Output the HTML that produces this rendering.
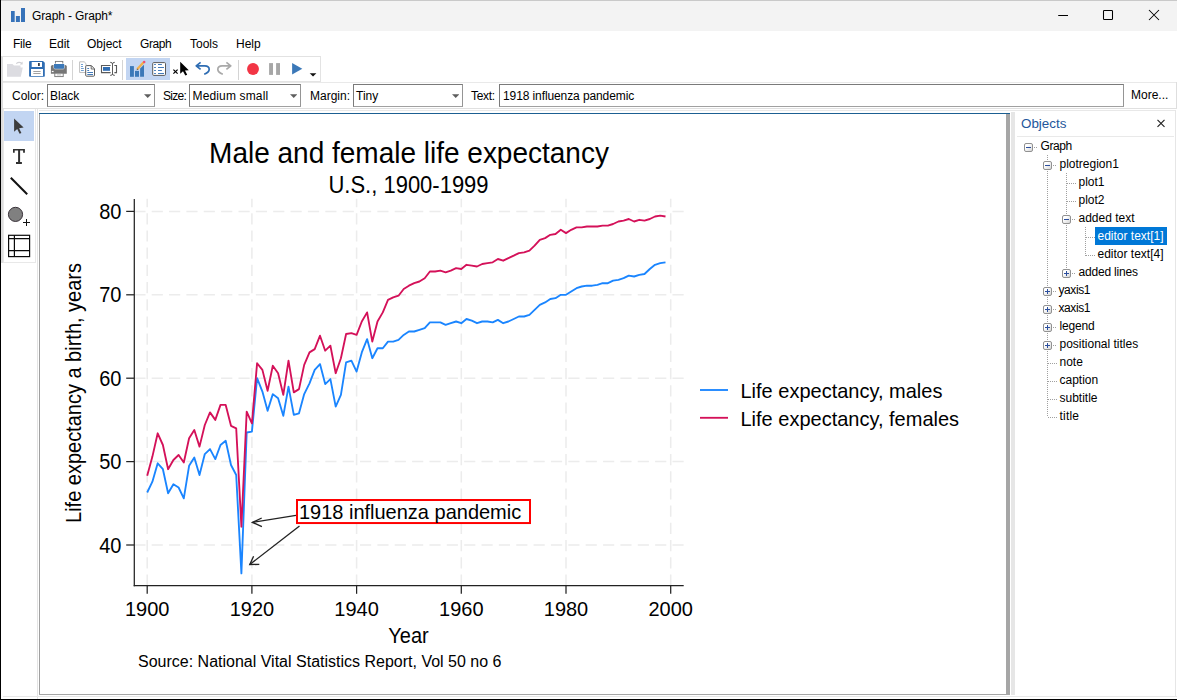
<!DOCTYPE html>
<html><head><meta charset="utf-8"><title>Graph - Graph*</title>
<style>
*{box-sizing:border-box}
html,body{margin:0;padding:0}
body{width:1177px;height:700px;overflow:hidden;background:#fff;position:relative;font-family:"Liberation Sans",sans-serif;font-size:12px;color:#000}
.a{position:absolute}
.t{position:absolute;white-space:pre;line-height:14px;height:14px}
.combo{position:absolute;top:84px;height:23px;background:#fff;border:1px solid #7a7a7a;border-right-color:#959595;border-bottom-color:#a0a0a0}
.combo i{position:absolute;right:2.6px;top:9.2px;width:7.4px;height:3.9px;background:#5e5e5e;clip-path:polygon(0 0,100% 0,50% 100%)}
.tree .t{font-size:12px}
.dot{position:absolute;border-color:#9a9a9a;border-style:dotted;border-width:0}
.box{position:absolute;width:9px;height:9px;border:1px solid #919191;border-radius:2px;background:linear-gradient(135deg,#fff 30%,#d6d6d6)}
.box:before{content:"";position:absolute;left:1px;top:3px;width:5px;height:1px;background:#2c4f9e}
.box.p:after{content:"";position:absolute;left:3px;top:1px;width:1px;height:5px;background:#2c4f9e}
</style></head><body>
<!-- window frame -->
<div class="a" style="left:0;top:0;width:1177px;height:1px;background:#c9c9c9"></div>
<div class="a" style="left:1px;top:1px;width:1176px;height:30px;background:#f3f3f3"></div>
<div class="a" style="left:0;top:0;width:1.3px;height:700px;background:#000"></div>
<div class="a" style="left:1.3px;top:56px;width:1.4px;height:207px;background:#dddddd"></div>
<div class="a" style="left:0;top:699px;width:1177px;height:1px;background:#000"></div>
<!-- title -->
<svg class="a" style="left:10px;top:7px" width="16" height="16"><rect x="1" y="4" width="3.7" height="11" fill="#3672b9"/><rect x="5.9" y="9" width="4" height="6" fill="#3672b9"/><rect x="11" y="1" width="4" height="14" fill="#3672b9"/></svg>
<div class="t" style="left:32px;top:9px;font-size:12px;letter-spacing:-0.12px">Graph - Graph*</div>
<svg class="a" style="left:1050px;top:5px" width="120" height="22" fill="none" stroke="#000" stroke-width="1.05"><line x1="8.2" y1="10.5" x2="18" y2="10.5"/><rect x="53.5" y="5.5" width="9" height="9" rx="0.8"/><path d="M99,5 L109,15 M109,5 L99,15"/></svg>
<!-- menu -->
<div class="t" style="left:13px;top:37px;letter-spacing:-0.25px">File</div>
<div class="t" style="left:49px;top:37px">Edit</div>
<div class="t" style="left:87px;top:37px">Object</div>
<div class="t" style="left:140px;top:37px;letter-spacing:-0.4px">Graph</div>
<div class="t" style="left:190px;top:37px">Tools</div>
<div class="t" style="left:236px;top:37px">Help</div>
<div class="a" style="left:2px;top:56px;width:319px;height:1px;background:#e2e2e2"></div>
<!-- toolbar -->
<div class="a" style="left:3px;top:81px;width:318px;height:1px;background:#e3e3e3"></div>
<div class="a" style="left:320px;top:57px;width:1px;height:25px;background:#e3e3e3"></div>
<div class="a" style="left:126px;top:58px;width:44px;height:22px;background:#c2d5f2"></div>
<svg class="a" style="left:0;top:56px" width="325" height="26" viewBox="0 56 325 26">
<!-- open (disabled) -->
<path d="M7,64 L12.5,64 L14,65.6 L20.5,65.6 L20.5,67.5 L22.8,67.5 L20.8,76.8 L7,76.8 Z" fill="#dcdce1"/>
<path d="M16.2,63.6 Q19,61.3 22,63.4" fill="none" stroke="#d2d2d6" stroke-width="1.1"/><path d="M22.6,61.5 L22.6,64.6 L19.8,64.4 Z" fill="#d2d2d6"/>
<!-- save -->
<path d="M30,61 L43,61 L44.8,62.8 L44.8,76 Q44.8,76.8 44,76.8 L30,76.8 Q29.1,76.8 29.1,76 L29.1,61.9 Q29.1,61 30,61 Z" fill="#2f6db3"/>
<rect x="31.7" y="62" width="10.3" height="5" fill="#fff"/><rect x="38" y="63" width="1.8" height="3" fill="#3a3f48"/>
<rect x="31" y="69" width="12" height="7" fill="#fff"/><rect x="33.3" y="71.2" width="7.3" height="0.8" fill="#8a8a8a"/><rect x="33.3" y="73.2" width="7.3" height="0.8" fill="#8a8a8a"/>
<!-- print -->
<rect x="55.4" y="61.4" width="7.4" height="4" fill="#fff" stroke="#767676" stroke-width="0.9"/>
<path d="M52.5,65 L65.2,65 Q66.8,65 66.8,66.6 L66.8,73.8 L50.9,73.8 L50.9,66.6 Q50.9,65 52.5,65 Z" fill="#767676"/>
<path d="M54,64 L64.2,64 L64.2,67.8 Q64.2,68.8 63.2,68.8 L55,68.8 Q54,68.8 54,67.8 Z" fill="#3b78b8" stroke="#fff" stroke-width="0.9" paint-order="stroke"/>
<rect x="51.8" y="70.9" width="1.8" height="1.2" fill="#fff"/>
<rect x="54.8" y="73.2" width="8.4" height="3.4" fill="#fff" stroke="#767676" stroke-width="0.9"/><rect x="56.8" y="74.6" width="4.4" height="0.7" fill="#9a9a9a"/>
<!-- seps -->
<rect x="72" y="60" width="1" height="20" fill="#d4d4d4"/><rect x="122" y="60" width="1" height="20" fill="#d4d4d4"/><rect x="238" y="60" width="1" height="20" fill="#d4d4d4"/>
<!-- copy -->
<path d="M79.6,61.8 L84.2,61.8 L86,63.6 L86,72.5 L79.6,72.5 Z" fill="#fff" stroke="#b9b9b9" stroke-width="0.9"/>
<g fill="#4b86c6"><rect x="81" y="64" width="2" height="0.8"/><rect x="81" y="66" width="2" height="0.8"/><rect x="81" y="68" width="2.8" height="0.8"/><rect x="81" y="70" width="2.8" height="0.8"/></g>
<path d="M86.6,65.6 L91.4,65.6 L94.5,68.8 L94.5,75.3 Q94.5,76.2 93.6,76.2 L86.6,76.2 Q85.7,76.2 85.7,75.3 L85.7,66.5 Q85.7,65.6 86.6,65.6 Z" fill="#fff" stroke="#5a5a5a" stroke-width="1"/>
<path d="M91.2,65.8 L91.2,69 L94.3,69" fill="none" stroke="#5a5a5a" stroke-width="0.9"/>
<g fill="#2f6db3"><rect x="87.3" y="68" width="1.8" height="0.9"/><rect x="87.3" y="70" width="1.8" height="0.9"/><rect x="87.3" y="72" width="5.7" height="0.9"/><rect x="87.3" y="74" width="5.7" height="0.9"/></g>
<!-- rename -->
<path d="M110.6,65.5 L101.5,65.5 L101.5,72.6 L110.6,72.6 M114.4,65.5 L116.5,65.5 L116.5,72.6 L114.4,72.6" fill="none" stroke="#5a5a5a" stroke-width="1.1"/>
<rect x="103" y="67" width="7" height="3.8" fill="#2f6db3"/>
<path d="M110.2,62.3 Q112.5,62.3 112.5,64 L112.5,74 Q112.5,75.4 110.2,75.4 M114.8,62.3 Q112.5,62.3 112.5,64 M112.5,74 Q112.5,75.4 114.8,75.4" fill="none" stroke="#4a4a4a" stroke-width="0.9"/>
<!-- graph editor -->
<g fill="#3b78b8"><rect x="130" y="66.1" width="3.9" height="10.7"/><rect x="135" y="70.9" width="4" height="5.9"/><path d="M140.1,68.4 L144,64.8 L144,76.8 L140.1,76.8 Z"/></g>
<path d="M137.2,69.2 L143.6,62.2" stroke="#f3b04c" stroke-width="2.3" fill="none"/><path d="M136.2,70.2 L137.8,68.6 L138.3,69.6 Z" fill="#5a4a3a"/>
<circle cx="144.2" cy="61.9" r="1.25" fill="#f0506e"/>
<!-- list -->
<rect x="152.7" y="62.6" width="12.8" height="12.8" rx="1" fill="#fff" stroke="#5a5a5a" stroke-width="1"/>
<g fill="#2f6db3"><rect x="154.1" y="64.1" width="1.8" height="0.9"/><rect x="158" y="64.1" width="3.9" height="0.9"/><rect x="154.1" y="67" width="1.8" height="0.9"/><rect x="158" y="67" width="6" height="0.9"/><rect x="154.1" y="70" width="1.8" height="0.9"/><rect x="158" y="70" width="3.9" height="0.9"/><rect x="154.1" y="73" width="1.8" height="0.9"/><rect x="158" y="73" width="6" height="0.9"/></g>
<!-- x + cursor -->
<path d="M173.4,69.6 L177.6,73.6 M177.6,69.6 L173.4,73.6" stroke="#000" stroke-width="1.25"/>
<path d="M180.2,61.8 L180.2,73.8 L183,71.2 L185.3,75.6 L187.2,74.7 L185,70.4 L188.8,70.2 Z" fill="#000"/>
<!-- undo -->
<path d="M200.6,62.4 L196.2,65.8 L200.6,69.4 M196.4,65.8 L204.8,65.8 Q209.2,66 209.2,69.4 Q209,72.6 204.2,74.2" fill="none" stroke="#2f6db3" stroke-width="1.7" stroke-linejoin="round"/>
<!-- redo -->
<path d="M226.4,62.4 L230.8,65.8 L226.4,69.4 M230.6,65.8 L222.2,65.8 Q217.8,66 217.8,69.4 Q218,72.6 222.8,74.2" fill="none" stroke="#a9a9a9" stroke-width="1.7" stroke-linejoin="round"/>
<!-- record / pause / play -->
<circle cx="253" cy="69" r="5.95" fill="#f23545"/>
<rect x="269.1" y="63.1" width="3.9" height="11.8" fill="#a6a6a6"/><rect x="276.1" y="63.1" width="3.9" height="11.8" fill="#a6a6a6"/>
<path d="M292.1,63.1 L302.3,68.8 L292.1,74.6 Z" fill="#3b78b8"/>
<path d="M309.7,73.2 L316.4,73.2 L313.05,76.6 Z" fill="#111"/>
</svg>

<!-- options bar -->
<div class="a" style="left:3px;top:82px;width:1174px;height:1px;background:#e9e9e9"></div>
<div class="t" style="left:12px;top:89px">Color:</div>
<div class="combo" style="left:47px;width:108px"><i></i></div>
<div class="t" style="left:50px;top:89px">Black</div>
<div class="t" style="left:163px;top:89px;letter-spacing:-0.7px">Size:</div>
<div class="combo" style="left:189px;width:112px"><i></i></div>
<div class="t" style="left:192.5px;top:89px;letter-spacing:0.15px">Medium small</div>
<div class="t" style="left:310px;top:89px">Margin:</div>
<div class="combo" style="left:353px;width:110px"><i></i></div>
<div class="t" style="left:356px;top:89px">Tiny</div>
<div class="t" style="left:471px;top:89px;letter-spacing:-0.3px">Text:</div>
<div class="combo" style="left:499px;width:625px"></div>
<div class="t" style="left:503px;top:89px;letter-spacing:-0.1px">1918 influenza pandemic</div>
<div class="t" style="left:1131px;top:88.2px">More...</div>
<div class="a" style="left:1176px;top:82px;width:1px;height:27px;background:#dedede"></div>
<div class="a" style="left:1175px;top:110px;width:1px;height:586px;background:#e6e6e6"></div>
<div class="a" style="left:3px;top:108px;width:1174px;height:1px;background:#e0e0e0"></div>
<div class="a" style="left:39px;top:110px;width:1136px;height:1px;background:#e8e8e8"></div>
<!-- tool panel -->
<div class="a" style="left:2.5px;top:109px;width:33.5px;height:154px;border:1px solid #e8e8e8;border-top:0"></div>
<div class="a" style="left:37px;top:109px;width:1px;height:590px;background:#e4e4e4"></div>
<div class="a" style="left:4px;top:111px;width:30px;height:30px;background:#c2d5f2"></div>
<svg class="a" style="left:0;top:109px" width="40" height="155" viewBox="0 109 40 155">
<path d="M14.1,118.6 L14.1,131.8 L17.2,129 L19.6,133.8 L21.4,132.9 L19.1,128.2 L23.6,127.6 Z" fill="#3c3c3c"/>
<path d="M13,148.9 L24.9,148.9 L24.9,152.8 L23.1,152.8 L23.1,150.6 L20.1,150.6 L20.1,162.1 L21.9,162.1 L21.9,163.9 L16,163.9 L16,162.1 L18.1,162.1 L18.1,150.6 L14.7,150.6 L14.7,152.8 L13,152.8 Z" fill="#303030"/>
<line x1="10.8" y1="177.8" x2="27.2" y2="194.2" stroke="#111" stroke-width="2"/>
<circle cx="15.5" cy="214.4" r="7.1" fill="#808080" stroke="#2a222a" stroke-width="0.9"/>
<path d="M23,222.5 L30,222.5 M26.5,219 L26.5,226" stroke="#111" stroke-width="1"/>
<g fill="none" stroke="#0a0a0a" stroke-width="1.2"><rect x="8.6" y="235.3" width="21" height="21.3"/><path d="M8.6,238.6 L29.6,238.6 M8.6,250.6 L29.6,250.6 M14.4,235.3 L14.4,256.6"/></g>
</svg>

<!-- graph frame -->
<div class="a" style="left:39px;top:113px;width:971px;height:1px;background:#1c5f92"></div>
<div class="a" style="left:39px;top:114px;width:1px;height:581px;background:#a0a0a0"></div>
<div class="a" style="left:1006px;top:114px;width:4px;height:581px;background:#a6a6a6"></div>
<div class="a" style="left:39px;top:694px;width:971px;height:1px;background:#a6a6a6"></div>
<div class="a" style="left:1011px;top:112px;width:4px;height:583px;background:#e6e6e6"></div>
<div class="a" style="left:3px;top:696px;width:1174px;height:1px;background:#e8e8e8"></div>
<svg id="g" width="1177" height="700" viewBox="0 0 1177 700" style="position:absolute;left:0;top:0" font-family="Liberation Sans, sans-serif" fill="#000">
<g stroke="#ececec" stroke-width="1.5" stroke-dasharray="11.3 6" fill="none"><line x1="134.3" x2="683.7" y1="545.0" y2="545.0" stroke-dasharray="11.2 6.16"/><line x1="134.3" x2="683.7" y1="461.6" y2="461.6" stroke-dasharray="11.2 6.16"/><line x1="134.3" x2="683.7" y1="378.2" y2="378.2" stroke-dasharray="11.2 6.16"/><line x1="134.3" x2="683.7" y1="294.8" y2="294.8" stroke-dasharray="11.2 6.16"/><line x1="134.3" x2="683.7" y1="211.4" y2="211.4" stroke-dasharray="11.2 6.16"/><line x1="147.2" x2="147.2" y1="585.6" y2="198.8" stroke-dasharray="11.2 6"/><line x1="251.9" x2="251.9" y1="585.6" y2="198.8" stroke-dasharray="11.2 6"/><line x1="356.6" x2="356.6" y1="585.6" y2="198.8" stroke-dasharray="11.2 6"/><line x1="461.3" x2="461.3" y1="585.6" y2="198.8" stroke-dasharray="11.2 6"/><line x1="566.0" x2="566.0" y1="585.6" y2="198.8" stroke-dasharray="11.2 6"/><line x1="670.7" x2="670.7" y1="585.6" y2="198.8" stroke-dasharray="11.2 6"/></g>
<g stroke="#222" stroke-width="1.25"><line x1="126.2" x2="134" y1="545.0" y2="545.0"/><text stroke="none" transform="translate(121.5,552.5) scale(1,1.06)" text-anchor="end" font-size="20">40</text><line x1="126.2" x2="134" y1="461.6" y2="461.6"/><text stroke="none" transform="translate(121.5,469.1) scale(1,1.06)" text-anchor="end" font-size="20">50</text><line x1="126.2" x2="134" y1="378.2" y2="378.2"/><text stroke="none" transform="translate(121.5,385.7) scale(1,1.06)" text-anchor="end" font-size="20">60</text><line x1="126.2" x2="134" y1="294.8" y2="294.8"/><text stroke="none" transform="translate(121.5,302.3) scale(1,1.06)" text-anchor="end" font-size="20">70</text><line x1="126.2" x2="134" y1="211.4" y2="211.4"/><text stroke="none" transform="translate(121.5,218.9) scale(1,1.06)" text-anchor="end" font-size="20">80</text><line x1="147.2" x2="147.2" y1="586" y2="593.8"/><text stroke="none" transform="translate(147.2,616.1) scale(1,1.04)" text-anchor="middle" font-size="20">1900</text><line x1="251.9" x2="251.9" y1="586" y2="593.8"/><text stroke="none" transform="translate(251.9,616.1) scale(1,1.04)" text-anchor="middle" font-size="20">1920</text><line x1="356.6" x2="356.6" y1="586" y2="593.8"/><text stroke="none" transform="translate(356.6,616.1) scale(1,1.04)" text-anchor="middle" font-size="20">1940</text><line x1="461.3" x2="461.3" y1="586" y2="593.8"/><text stroke="none" transform="translate(461.3,616.1) scale(1,1.04)" text-anchor="middle" font-size="20">1960</text><line x1="566.0" x2="566.0" y1="586" y2="593.8"/><text stroke="none" transform="translate(566.0,616.1) scale(1,1.04)" text-anchor="middle" font-size="20">1980</text><line x1="670.7" x2="670.7" y1="586" y2="593.8"/><text stroke="none" transform="translate(670.7,616.1) scale(1,1.04)" text-anchor="middle" font-size="20">2000</text></g>
<line x1="134.3" x2="134.3" y1="199" y2="586.2" stroke="#222" stroke-width="1.25"/>
<line x1="133.7" x2="683.7" y1="585.6" y2="585.6" stroke="#222" stroke-width="1.25"/>
<path d="M147.2,492.5 L152.4,481.7 L157.7,463.3 L162.9,469.2 L168.1,493.3 L173.4,484.2 L178.6,487.5 L183.8,498.3 L189.1,465.8 L194.3,457.5 L199.5,475.0 L204.8,454.1 L210.0,449.1 L215.3,459.1 L220.5,445.0 L225.7,440.8 L231.0,465.0 L236.2,475.0 L241.4,573.4 L246.7,432.5 L251.9,431.6 L257.1,378.2 L262.4,391.6 L267.6,410.8 L272.8,394.1 L278.1,398.3 L283.3,415.8 L288.5,386.6 L293.8,414.9 L299.0,413.3 L304.2,394.1 L309.5,383.3 L314.7,369.9 L320.0,364.1 L325.2,384.1 L330.4,379.1 L335.7,406.6 L340.9,394.9 L346.1,362.4 L351.4,360.7 L356.6,371.6 L361.8,352.4 L367.1,339.1 L372.3,358.2 L377.5,348.2 L382.8,348.2 L388.0,341.6 L393.2,341.6 L398.5,339.9 L403.7,334.9 L408.9,331.5 L414.2,331.5 L419.4,329.9 L424.7,328.2 L429.9,322.4 L435.1,322.4 L440.4,322.4 L445.6,324.9 L450.8,323.2 L456.1,321.5 L461.3,323.2 L466.5,319.0 L471.8,320.7 L477.0,323.2 L482.2,321.5 L487.5,321.5 L492.7,322.4 L497.9,319.9 L503.2,323.2 L508.4,321.5 L513.7,319.0 L518.9,316.5 L524.1,316.5 L529.4,314.9 L534.6,309.9 L539.8,304.9 L545.1,302.4 L550.3,299.0 L555.5,298.2 L560.8,294.8 L566.0,294.8 L571.2,291.5 L576.5,288.2 L581.7,286.5 L586.9,285.7 L592.2,285.7 L597.4,284.8 L602.6,283.2 L607.9,283.2 L613.1,280.7 L618.4,279.8 L623.6,278.2 L628.8,275.7 L634.1,276.5 L639.3,274.8 L644.5,274.0 L649.8,269.0 L655.0,264.8 L660.2,263.2 L665.5,262.3" fill="none" stroke="#1a85ff" stroke-width="1.85" stroke-linejoin="round"/>
<path d="M147.2,475.8 L152.4,456.6 L157.7,433.3 L162.9,445.0 L168.1,469.2 L173.4,460.0 L178.6,455.0 L183.8,462.5 L189.1,438.3 L194.3,430.0 L199.5,446.6 L204.8,425.0 L210.0,412.4 L215.3,419.9 L220.5,404.9 L225.7,404.9 L231.0,425.8 L236.2,428.3 L241.4,526.7 L246.7,411.6 L251.9,423.3 L257.1,363.2 L262.4,369.9 L267.6,390.8 L272.8,365.7 L278.1,373.2 L283.3,394.9 L288.5,360.7 L293.8,392.4 L299.0,389.1 L304.2,364.9 L309.5,352.4 L314.7,349.1 L320.0,335.7 L325.2,350.7 L330.4,345.7 L335.7,373.2 L340.9,358.2 L346.1,334.0 L351.4,333.2 L356.6,334.9 L361.8,321.5 L367.1,312.4 L372.3,341.6 L377.5,321.5 L382.8,312.4 L388.0,299.9 L393.2,297.4 L398.5,295.7 L403.7,289.0 L408.9,285.7 L414.2,283.2 L419.4,281.5 L424.7,278.2 L429.9,271.5 L435.1,271.5 L440.4,270.7 L445.6,272.3 L450.8,270.7 L456.1,268.2 L461.3,269.0 L466.5,264.8 L471.8,265.7 L477.0,266.5 L482.2,264.0 L487.5,263.2 L492.7,262.3 L497.9,259.0 L503.2,260.7 L508.4,258.2 L513.7,255.7 L518.9,253.1 L524.1,252.3 L529.4,250.6 L534.6,245.6 L539.8,239.8 L545.1,238.1 L550.3,234.8 L555.5,234.0 L560.8,229.8 L566.0,233.1 L571.2,229.8 L576.5,227.3 L581.7,227.3 L586.9,226.5 L592.2,226.5 L597.4,226.5 L602.6,225.6 L607.9,225.6 L613.1,224.0 L618.4,221.5 L623.6,220.6 L628.8,219.0 L634.1,221.5 L639.3,219.8 L644.5,220.6 L649.8,219.0 L655.0,216.5 L660.2,215.6 L665.5,216.5" fill="none" stroke="#d41159" stroke-width="1.85" stroke-linejoin="round"/>
<text transform="translate(409,163) scale(1,1.03)" text-anchor="middle" font-size="28">Male and female life expectancy</text>
<text transform="translate(408.5,193) scale(1,1.07)" text-anchor="middle" font-size="22">U.S., 1900-1999</text>
<text transform="translate(408.5,643) scale(1,1.06)" text-anchor="middle" font-size="20">Year</text>
<text x="138" y="666.5" font-size="16">Source: National Vital Statistics Report, Vol 50 no 6</text>
<text transform="translate(81.2,393) rotate(-90) scale(1,1.06)" text-anchor="middle" font-size="20">Life expectancy a birth, years</text>
<line x1="700" x2="728" y1="390" y2="390" stroke="#1a85ff" stroke-width="1.85"/>
<line x1="700" x2="728" y1="417.8" y2="417.8" stroke="#d41159" stroke-width="1.85"/>
<text transform="translate(740.5,398) scale(1,1.03)" font-size="20">Life expectancy, males</text>
<text transform="translate(740.5,425.8) scale(1,1.03)" font-size="20">Life expectancy, females</text>
<rect x="297" y="500" width="233" height="23.05" fill="#fff" stroke="#f00" stroke-width="2"/>
<text transform="translate(298.9,518.9) scale(1,1.05)" font-size="20">1918 influenza pandemic</text>
<g stroke="#222" stroke-width="1.35" fill="none">
<line x1="296" y1="515.3" x2="252.4" y2="522.4"/><path d="M261.7,518 L252.4,522.4 L261.9,526.6"/>
<line x1="299.5" y1="526" x2="249.8" y2="564.5"/><path d="M253.6,556.3 L249.8,564.5 L259.3,564.4"/>
</g>
</svg>
<!-- objects panel -->
<div class="t" style="left:1021px;top:116px;font-size:13.4px;line-height:16px;height:16px;color:#23569b">Objects</div>
<svg class="a" style="left:1155px;top:117px" width="12" height="12" stroke="#222" stroke-width="1.15"><path d="M2.5,2.8 L9.5,9.9 M9.5,2.8 L2.5,9.9"/></svg>
<div class="a" style="left:1017px;top:136px;width:157px;height:1px;background:#e9e9e9"></div>
<div class="tree">
<div class="a" style="left:1047px;top:155px;width:1px;height:262px;background:repeating-linear-gradient(180deg,#a0a0a0 0 1px,transparent 1px 2px)"></div><div class="a" style="left:1066px;top:173px;width:1px;height:100px;background:repeating-linear-gradient(180deg,#a0a0a0 0 1px,transparent 1px 2px)"></div><div class="a" style="left:1085px;top:227px;width:1px;height:29px;background:repeating-linear-gradient(180deg,#a0a0a0 0 1px,transparent 1px 2px)"></div><div class="t" style="left:1040.5px;top:139.3px;letter-spacing:-0.4px">Graph</div><div class="a" style="left:1034px;top:147px;width:4px;height:1px;background:repeating-linear-gradient(90deg,#a0a0a0 0 1px,transparent 1px 2px)"></div><div class="box" style="left:1024px;top:143px"></div><div class="t" style="left:1059.5px;top:157.3px">plotregion1</div><div class="a" style="left:1053px;top:165px;width:4px;height:1px;background:repeating-linear-gradient(90deg,#a0a0a0 0 1px,transparent 1px 2px)"></div><div class="box" style="left:1043px;top:161px"></div><div class="t" style="left:1078.5px;top:175.3px">plot1</div><div class="a" style="left:1067px;top:183px;width:9px;height:1px;background:repeating-linear-gradient(90deg,#a0a0a0 0 1px,transparent 1px 2px)"></div><div class="t" style="left:1078.5px;top:193.3px">plot2</div><div class="a" style="left:1067px;top:201px;width:9px;height:1px;background:repeating-linear-gradient(90deg,#a0a0a0 0 1px,transparent 1px 2px)"></div><div class="t" style="left:1078.5px;top:211.3px">added text</div><div class="a" style="left:1072px;top:219px;width:4px;height:1px;background:repeating-linear-gradient(90deg,#a0a0a0 0 1px,transparent 1px 2px)"></div><div class="box" style="left:1062px;top:215px"></div><div class="a" style="left:1095px;top:227px;width:72px;height:18px;background:#0078d7"></div><div class="t" style="left:1097.5px;top:229.3px;color:#fff">editor text[1]</div><div class="a" style="left:1086px;top:237px;width:9px;height:1px;background:repeating-linear-gradient(90deg,#a0a0a0 0 1px,transparent 1px 2px)"></div><div class="t" style="left:1097.5px;top:247.3px">editor text[4]</div><div class="a" style="left:1086px;top:255px;width:9px;height:1px;background:repeating-linear-gradient(90deg,#a0a0a0 0 1px,transparent 1px 2px)"></div><div class="t" style="left:1078.5px;top:265.3px;letter-spacing:-0.2px">added lines</div><div class="a" style="left:1072px;top:273px;width:4px;height:1px;background:repeating-linear-gradient(90deg,#a0a0a0 0 1px,transparent 1px 2px)"></div><div class="box p" style="left:1062px;top:269px"></div><div class="t" style="left:1058.5px;top:283.3px;letter-spacing:-0.4px">yaxis1</div><div class="a" style="left:1053px;top:291px;width:4px;height:1px;background:repeating-linear-gradient(90deg,#a0a0a0 0 1px,transparent 1px 2px)"></div><div class="box p" style="left:1043px;top:287px"></div><div class="t" style="left:1058.5px;top:301.3px;letter-spacing:-0.4px">xaxis1</div><div class="a" style="left:1053px;top:309px;width:4px;height:1px;background:repeating-linear-gradient(90deg,#a0a0a0 0 1px,transparent 1px 2px)"></div><div class="box p" style="left:1043px;top:305px"></div><div class="t" style="left:1059.5px;top:319.3px;letter-spacing:-0.15px">legend</div><div class="a" style="left:1053px;top:327px;width:4px;height:1px;background:repeating-linear-gradient(90deg,#a0a0a0 0 1px,transparent 1px 2px)"></div><div class="box p" style="left:1043px;top:323px"></div><div class="t" style="left:1059.5px;top:337.3px">positional titles</div><div class="a" style="left:1053px;top:345px;width:4px;height:1px;background:repeating-linear-gradient(90deg,#a0a0a0 0 1px,transparent 1px 2px)"></div><div class="box p" style="left:1043px;top:341px"></div><div class="t" style="left:1059.5px;top:355.3px">note</div><div class="a" style="left:1048px;top:363px;width:9px;height:1px;background:repeating-linear-gradient(90deg,#a0a0a0 0 1px,transparent 1px 2px)"></div><div class="t" style="left:1059.5px;top:373.3px">caption</div><div class="a" style="left:1048px;top:381px;width:9px;height:1px;background:repeating-linear-gradient(90deg,#a0a0a0 0 1px,transparent 1px 2px)"></div><div class="t" style="left:1059.5px;top:391.3px">subtitle</div><div class="a" style="left:1048px;top:399px;width:9px;height:1px;background:repeating-linear-gradient(90deg,#a0a0a0 0 1px,transparent 1px 2px)"></div><div class="t" style="left:1059.5px;top:409.3px;letter-spacing:0.2px">title</div><div class="a" style="left:1048px;top:417px;width:9px;height:1px;background:repeating-linear-gradient(90deg,#a0a0a0 0 1px,transparent 1px 2px)"></div>
</div>
</body></html>
